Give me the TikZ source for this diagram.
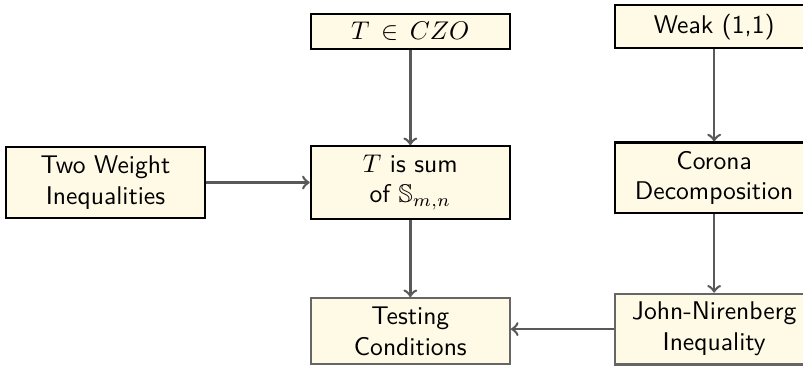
\documentclass[tikz,border=0pt]{standalone}
\usepackage{amssymb}
\usepackage{tikz}
\usetikzlibrary{positioning}
\definecolor{boxfill}{RGB}{255,250,230}

\begin{document}
\begin{tikzpicture}[font=\sffamily, b/.style={rectangle, draw, thick, fill=boxfill, text width=2.5cm, align=center}, g/.style={draw=black!60}, a/.style={line width=1pt, draw=black!65}]
		\useasboundingbox (-160.3pt,-72.85pt) rectangle (153.4pt,71.3pt);

		\node[b] (sum) at (0,0) {$T$ is sum\\ of $\mathbb{S}_{m,n}$};
		\node[b, above=37.1pt of sum] (czo) {$T\in CZO$};
		\node[b, left=40.5pt of sum] (two) {Two Weight\\ Inequalities};
		\node[b, right=40.1pt of sum, yshift=1.8pt] (corona) {Corona\\ Decomposition};
		\node[b, above=36.1pt of corona] (weak) {Weak (1,1)};
		\node[b, g, below=30.2pt of sum] (test) {Testing\\ Conditions};
		\node[b, g, below=30.6pt of corona] (jn) {John-Nirenberg\\ Inequality};


		\path[->, a] (czo) edge (sum);
		\path[->, a] (two) edge (sum);
		\path[->, a] (sum) edge (test);
		\path[->, a] (weak) edge (corona);
		\path[->, a] (corona) edge (jn);
		\draw[->, a] (jn.west) -- (jn.west -| test.east);
	\end{tikzpicture}
\end{document}
